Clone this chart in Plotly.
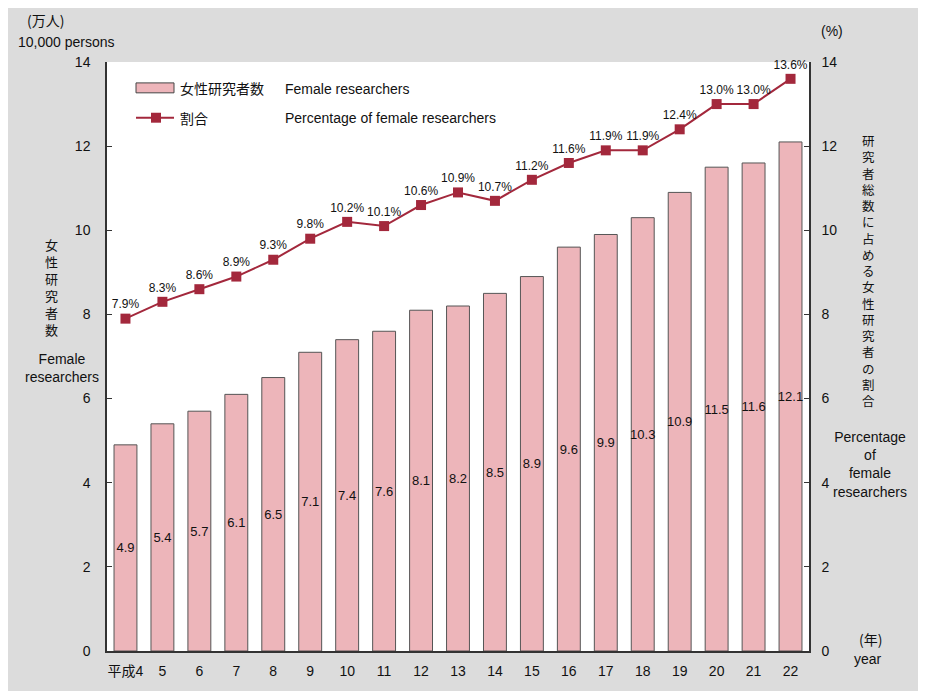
import plotly.graph_objects as go

years = ["平成4", "5", "6", "7", "8", "9", "10", "11", "12", "13", "14",
         "15", "16", "17", "18", "19", "20", "21", "22"]
researchers = [4.9, 5.4, 5.7, 6.1, 6.5, 7.1, 7.4, 7.6, 8.1, 8.2, 8.5,
               8.9, 9.6, 9.9, 10.3, 10.9, 11.5, 11.6, 12.1]
percentages = [7.9, 8.3, 8.6, 8.9, 9.3, 9.8, 10.2, 10.1, 10.6, 10.9, 10.7,
               11.2, 11.6, 11.9, 11.9, 12.4, 13.0, 13.0, 13.6]
y_ticks = [0, 2, 4, 6, 8, 10, 12, 14]

FONT = "Liberation Sans, Noto Sans CJK JP, Arial, sans-serif"
JFONT = "Noto Sans CJK JP, sans-serif"
BAR_COLOR = "#edb5ba"
LINE_COLOR = "#a3283c"
TXT = "#111111"

fig = go.Figure()
fig.add_trace(go.Bar(
    x=years, y=researchers, name="女性研究者数",
    marker=dict(color=BAR_COLOR, line=dict(color="#555555", width=1)),
    text=[f"{v:.1f}" for v in researchers], textposition="inside",
    insidetextanchor="middle", textangle=0,
    textfont=dict(size=13, color=TXT, family=FONT),
    showlegend=False, yaxis="y",
))
fig.add_trace(go.Scatter(
    x=years, y=percentages, name="割合", mode="lines+markers+text",
    line=dict(color=LINE_COLOR, width=2),
    marker=dict(symbol="square", size=10, color=LINE_COLOR),
    text=[f"{v:.1f}%" for v in percentages], textposition="top center",
    textfont=dict(size=12, color=TXT, family=FONT),
    showlegend=False, yaxis="y2", cliponaxis=False,
))

fig.update_layout(
    width=918, height=683,
    margin=dict(l=99, r=117, t=54, b=37),
    paper_bgcolor="#dcdcdc", plot_bgcolor="white",
    font=dict(family=FONT, size=13, color=TXT),
    bargap=0.38,
    uniformtext=dict(minsize=13, mode="show"),
    xaxis=dict(range=[-0.5, len(years) - 0.5], showline=True,
               linecolor="#333333", linewidth=1.5,
               ticks="", tickfont=dict(size=14), showgrid=False,
               ticklabelstandoff=6),
    yaxis=dict(range=[0, 14], tickvals=y_ticks, showgrid=False, zeroline=False,
               showline=True, linecolor="#333333", linewidth=1.5,
               ticks="inside", ticklen=5, tickcolor="#333333",
               tickfont=dict(size=14), ticklabelstandoff=12),
    yaxis2=dict(range=[0, 14], tickvals=y_ticks, overlaying="y", side="right",
                showgrid=False, zeroline=False, showline=True,
                linecolor="#333333", linewidth=1.5, ticks="inside", ticklen=5,
                tickcolor="#333333", tickfont=dict(size=14),
                ticklabelstandoff=8),
)

def px(x):
    return (x - 107) / 702

def py(y):
    return (654 - y) / 592

# custom legend
fig.add_shape(type="rect", xref="paper", yref="paper",
              x0=px(136), x1=px(174), y0=py(93), y1=py(83),
              fillcolor=BAR_COLOR, line=dict(color="#444444", width=1))
fig.add_shape(type="line", xref="paper", yref="paper",
              x0=px(136), x1=px(174), y0=py(118), y1=py(118),
              line=dict(color=LINE_COLOR, width=2))
fig.add_shape(type="rect", xref="paper", yref="paper",
              x0=px(151), x1=px(161), y0=py(123), y1=py(113),
              fillcolor=LINE_COLOR, line=dict(width=0))

def ann(text, x, y, xanchor="left", size=13, align="left", family=FONT):
    fig.add_annotation(text=text, xref="paper", yref="paper",
                       x=px(x), y=py(y),
                       xanchor=xanchor, yanchor="middle", showarrow=False,
                       align=align, font=dict(size=size, color=TXT, family=family))

ann("女性研究者数", 178, 88, size=14, family=JFONT)
ann("Female researchers", 283, 89, size=14)
ann("割合", 178, 118, size=14, family=JFONT)
ann("Percentage of female researchers", 283, 118, size=14)

ann("(万人)", 46, 20, xanchor="center", size=14, family=JFONT)
ann("10,000 persons", 66, 42, xanchor="center", size=14)
ann("<br>".join("女性研究者数"), 51, 288, xanchor="center", align="center",
    family=JFONT)
ann("Female<br>researchers", 62, 370, xanchor="center", align="center", size=14)

ann("(%)", 832, 31, xanchor="center", size=14)
ann("<br>".join("研究者総数に占める女性研究者の割合"), 869, 272,
    xanchor="center", align="center", size=12.5, family=JFONT)
ann("Percentage<br>of<br>female<br>researchers", 870, 467,
    xanchor="center", align="center", size=14)
ann("(年)", 870, 642, xanchor="center", size=14, family=JFONT)
ann("year", 868, 662, xanchor="center", size=14)

fig.write_html("out.html")
